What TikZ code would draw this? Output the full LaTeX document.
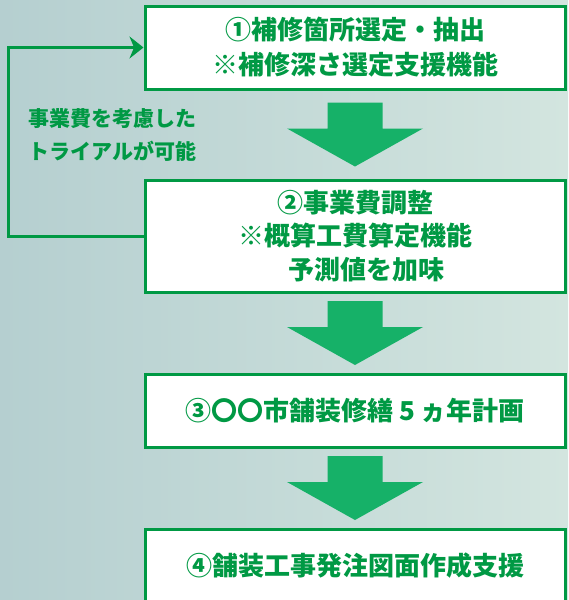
\documentclass[tikz,border=0pt]{standalone}
\usepackage{fontspec}
\newfontfamily\jpfont{Noto Sans CJK JP}
\usetikzlibrary{arrows.meta,calc}
\definecolor{waku}{RGB}{0,153,68}
\definecolor{yaji}{RGB}{22,177,104}
\definecolor{haikei1}{RGB}{181,207,208}
\definecolor{haikei2}{RGB}{211,229,223}

\begin{document}
\begin{tikzpicture}[x=0.75pt, y=-0.75pt, font=\jpfont\bfseries, line join=miter, >=Stealth]
\tikzset{
  stepbox/.style={draw=waku, line width=2.25pt, fill=white, text=waku, minimum width=315pt, align=center, inner sep=0pt,
    font=\jpfont\bfseries\fontsize{19.5}{25.5}\selectfont},
  memo/.style={text=waku, align=left, anchor=west, inner sep=0pt, font=\jpfont\bfseries\fontsize{15.75}{24.75}\selectfont},
  modori/.style={draw=waku, line width=2.25pt},
  bigarrow/.pic={\fill[yaji] (-27.5,-32) -- (27.5,-32) -- (27.5,-6) -- (68,-6) -- (0,32) -- (-68,-6) -- (-27.5,-6) -- cycle;}
}
\useasboundingbox (0,0) rectangle (568,600);
\clip (0,0) rectangle (568,600);
\shade[left color=haikei1, right color=haikei2] (0,0) rectangle (568,600);
\node[stepbox, minimum height=62.25pt, font=\jpfont\bfseries\fontsize{19.5}{26.25}\selectfont] (hosyu) at (355,47.5) {①補修箇所選定・抽出\\※補修深さ選定支援機能};
\node[stepbox, minimum height=84pt, font=\jpfont\bfseries\fontsize{19.5}{25}\selectfont] (jigyo) at (355,236) {②事業費調整\\※概算工費算定機能\\\hspace*{0.9em}予測値を加味};
\node[stepbox, minimum height=54.75pt] (keikaku) at (355,410.5) {③〇〇市舗装修繕 5 ヵ年計画};
\node[stepbox, minimum height=55.5pt] (hattyu) at (355,566) {④舗装工事発注図面作成支援};
\foreach \a/\b in {hosyu/jigyo, jigyo/keikaku, keikaku/hattyu}
  \path ($(\a.south)!0.5!(\b.north)$) pic {bigarrow};
\coordinate (hidari) at (8,0);
\draw[modori, -{Stealth[length=10.5pt, width=16.5pt]}] (jigyo.west) -- (jigyo.west -| hidari) |- (hosyu.west);
\node[memo] (trial) at (28,134.5) {事業費を考慮した\\トライアルが可能};
\end{tikzpicture}
\end{document}
